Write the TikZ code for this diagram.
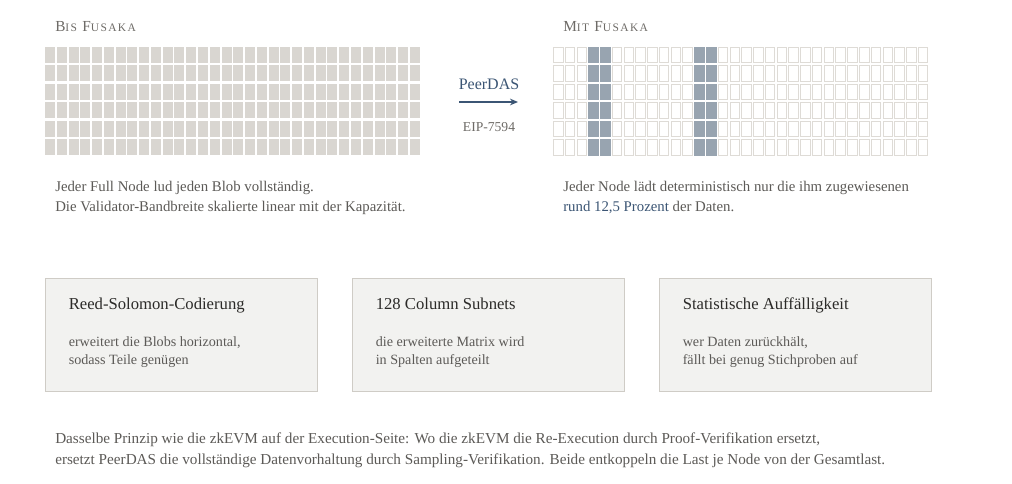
\documentclass[tikz,border=0pt]{standalone}
\usepackage{fontspec}
\setmainfont{Liberation Serif}
\usetikzlibrary{positioning,arrows.meta}

\definecolor{textgray}{HTML}{5C5A57}
\definecolor{headgray}{HTML}{6E6B67}
\definecolor{darkink}{HTML}{2B2A28}
\definecolor{accent}{HTML}{3B5574}
\definecolor{blobfill}{HTML}{D9D6D1}
\definecolor{cellline}{HTML}{DEDBD6}
\definecolor{sampled}{HTML}{98A4B0}
\definecolor{boxfill}{HTML}{F2F2F0}
\definecolor{boxline}{HTML}{CFCCC6}

% small caps by hand, letter spaced
\newcommand{\kapit}[2]{{\addfontfeature{LetterSpace=12}%
  \fontsize{11.5}{13}\selectfont #1\fontsize{8.6}{10}\selectfont #2}}

\tikzset{
  sectionhead/.style={anchor=west, text=headgray, inner sep=0pt},
  bodytext/.style={anchor=west, align=left, text=textgray, inner sep=0pt,
    font=\fontsize{11.1}{15}\selectfont},
  card/.style={draw=boxline, fill=boxfill, line width=0.75pt,
    minimum width=204pt, minimum height=84pt, inner sep=0pt},
  cardhead/.style={anchor=base west, text=darkink, inner sep=0pt,
    font=\fontsize{12.5}{15}\selectfont},
  cardtext/.style={anchor=base west, align=left, text=textgray, inner sep=0pt,
    font=\fontsize{10.6}{13.5}\selectfont},
  flow/.style={-{Stealth[length=6pt,width=5pt]}, accent, line width=0.9pt}
}

\begin{document}
\begin{tikzpicture}[x=0.75pt,y=-0.75pt]
  \useasboundingbox[fill=white] (0,0) rectangle (1012,484);

  % Bis Fusaka: every node gets every blob
  \node[sectionhead] (bisT) at (55,27)
    {\kapit{B}{IS}\hspace{4pt}\kapit{F}{USAKA}};
  \foreach \c in {0,...,31}
    \foreach \r in {0,...,5}
      \fill[blobfill] (45+11.77*\c,47+18.5*\r) rectangle ++(10,16);

  % Mit Fusaka: only some columns are sampled
  \node[sectionhead] (mitT) at (563,27)
    {\kapit{M}{IT}\hspace{4pt}\kapit{F}{USAKA}};
  \foreach \c in {0,...,31}
    \foreach \r in {0,...,5}
      \draw[cellline, fill=white, line width=0.75pt]
        (553.5+11.77*\c,47.5+18.5*\r) rectangle ++(9.5,15.5);
  \foreach \c in {3,4,12,13}
    \foreach \r in {0,...,5}
      \fill[sampled] (553+11.77*\c,47+18.5*\r) rectangle ++(10.5,16.5);

  % PeerDAS arrow
  \node[text=accent, font=\fontsize{12}{14}\selectfont] (pd) at (489,84) {PeerDAS};
  \coordinate (arrS) at (459,102);
  \coordinate (arrE) at (518,102);
  \draw[flow] (arrS) -- (arrE);
  \node[text=headgray, font=\fontsize{10.2}{12}\selectfont] (eip) at (489,127) {EIP-7594};

  % explanation under the grids
  \node[bodytext] (bisText) at (55,198)
    {Jeder Full Node lud jeden Blob vollständig.\\
     Die Validator-Bandbreite skalierte linear mit der Kapazität.};
  \node[bodytext] (mitText) at (563,198)
    {Jeder Node lädt deterministisch nur die ihm zugewiesenen\\
     \textcolor{accent}{rund 12,5 Prozent} der Daten.};

  % three building blocks
  \node[card] (rs) at (181,335) {};
  \node[card] (sub) at (488,335) {};
  \node[card] (stat) at (795,335) {};

  \node[cardhead] (rsT) at ([shift={(24,31)}]rs.north west) {Reed-Solomon-Codierung};
  \node[cardtext] (rsX) at ([shift={(24,86)}]rs.north west)
    {erweitert die Blobs horizontal,\\ sodass Teile genügen};

  \node[cardhead] (subT) at ([shift={(24,31)}]sub.north west) {128 Column Subnets};
  \node[cardtext] (subX) at ([shift={(24,86)}]sub.north west)
    {die erweiterte Matrix wird\\ in Spalten aufgeteilt};

  \node[cardhead] (statT) at ([shift={(24,31)}]stat.north west) {Statistische Auffälligkeit};
  \node[cardtext] (statX) at ([shift={(24,86)}]stat.north west)
    {wer Daten zurückhält,\\ fällt bei genug Stichproben auf};

  % closing remark
  \node[bodytext, font=\fontsize{11.4}{15.75}\selectfont] (fazit) at (55,450)
    {Dasselbe Prinzip wie die zkEVM auf der Execution-Seite: Wo die zkEVM die Re-Execution durch Proof-Verifikation ersetzt,\\
     ersetzt PeerDAS die vollständige Datenvorhaltung durch Sampling-Verifikation. Beide entkoppeln die Last je Node von der Gesamtlast.};
\end{tikzpicture}
\end{document}
